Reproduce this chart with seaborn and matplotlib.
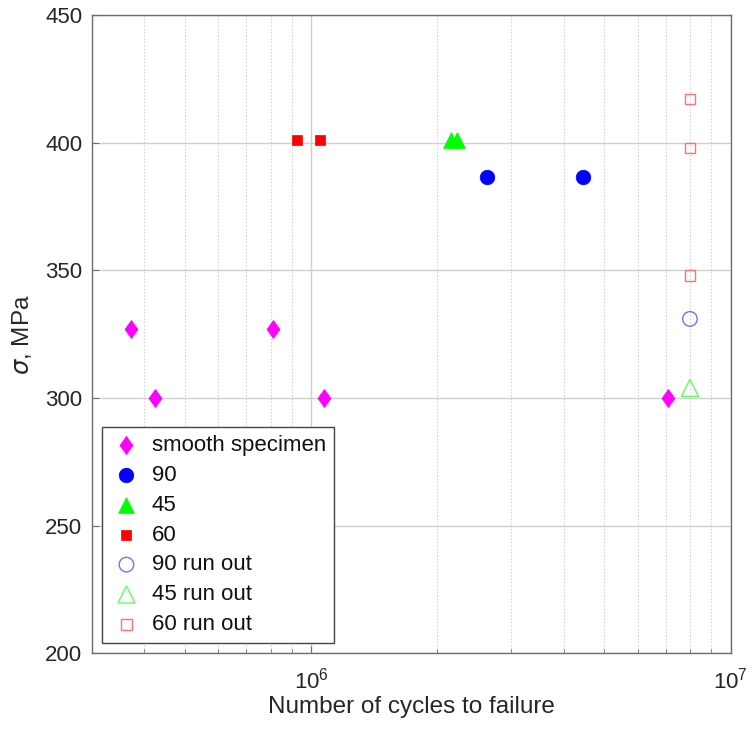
import numpy as np
import pandas as pd
import matplotlib
matplotlib.use("Agg")
import matplotlib.pyplot as plt
import matplotlib.ticker as mticker
from matplotlib.path import Path
import seaborn as sns

# ---- data ----
smooth_N = [3.72e5, 4.25e5, 8.1e5, 1.07e6, 7.08e6]
smooth_S = [327, 300, 327, 300, 300]
n90_N = [2.62e6, 4.45e6]
n90_S = [386.5, 386.5]
n45_N = [2.15e6, 2.23e6]
n45_S = [401, 401]
n60_N = [9.25e5, 1.05e6]
n60_S = [401, 401]
ro90_N = [8.0e6]
ro90_S = [331]
ro45_N = [8.0e6]
ro45_S = [304]
ro60_N = [8.0e6, 8.0e6, 8.0e6]
ro60_S = [417, 398, 348]

labels = ["smooth specimen", "90", "45", "60", "90 run out", "45 run out", "60 run out"]
yticks = [200, 250, 300, 350, 400, 450]

sns.set_style("white")
plt.rcParams["font.family"] = ["Liberation Sans", "DejaVu Sans"]
plt.rcParams["mathtext.fontset"] = "dejavusans"

# MATLAB-like diamond marker shape (slightly narrower than tall)
diamond = Path([(0, 1), (0.72, 0), (0, -1), (-0.72, 0), (0, 1)],
               [Path.MOVETO, Path.LINETO, Path.LINETO, Path.LINETO, Path.CLOSEPOLY])

fig = plt.figure(figsize=(7.52, 7.35), dpi=100)
ax = fig.add_axes([0.1223, 0.1109, 0.9715 - 0.1223, 0.9796 - 0.1109])

groups = [
    (smooth_N, smooth_S, labels[0], diamond, "#ff00ff", True, 170),
    (n90_N, n90_S, labels[1], "o", "#0000ff", True, 110),
    (n45_N, n45_S, labels[2], "^", "#00ff00", True, 130),
    (n60_N, n60_S, labels[3], "s", "#ff0000", True, 55),
    (ro90_N, ro90_S, labels[4], "o", "#7070ff", False, 110),
    (ro45_N, ro45_S, labels[5], "^", "#60ff60", False, 150),
    (ro60_N, ro60_S, labels[6], "s", "#ff7070", False, 55),
]

for xs, ys, lab, mk, col, filled, size in groups:
    df = pd.DataFrame({"N": xs, "S": ys})
    if filled:
        sns.scatterplot(data=df, x="N", y="S", marker=mk, color=col, s=size,
                        edgecolor=col, linewidth=0.5, ax=ax, label=lab, zorder=3)
    else:
        sns.scatterplot(data=df, x="N", y="S", marker=mk, color=col, s=size,
                        facecolor="none", edgecolor=col, linewidth=1.0, ax=ax,
                        label=lab, zorder=3)

ax.set_xscale("log")
ax.set_xlim(3e5, 1e7)
ax.set_ylim(200, 450)
ax.set_yticks(yticks)
ax.xaxis.set_major_locator(mticker.LogLocator(base=10, numticks=10))
ax.xaxis.set_minor_locator(mticker.LogLocator(base=10, subs=np.arange(2, 10), numticks=20))
ax.xaxis.set_minor_formatter(mticker.NullFormatter())

ax.grid(True, which="major", color="#cfcfcf", linewidth=1.0, linestyle="-", zorder=0)
ax.grid(True, which="minor", axis="x", color="#d4d4d4", linewidth=0.8,
        linestyle=(0, (1.5, 1.5)), zorder=0)
ax.set_axisbelow(True)

for sp in ax.spines.values():
    sp.set_color("#6e6e6e")
    sp.set_linewidth(1.0)

ax.tick_params(axis="both", which="major", direction="in", length=5, color="#6e6e6e",
               labelsize=16, labelcolor="#262626", pad=7)
ax.tick_params(axis="x", which="minor", direction="in", length=3, color="#6e6e6e")
ax.tick_params(axis="x", which="major", pad=10)
ax.xaxis.set_ticks_position("bottom")
ax.yaxis.set_ticks_position("left")

ax.set_xlabel("Number of cycles to failure", fontsize=17.5, color="#262626", labelpad=2)
ax.set_ylabel(r"$\sigma$, MPa", fontsize=17.5, color="#262626", labelpad=8)

leg = ax.legend(loc="lower left", bbox_to_anchor=(0.0157, 0.0164), borderaxespad=0,
                fontsize=16, frameon=True, fancybox=False, framealpha=1,
                edgecolor="#444444", labelspacing=0.4, handletextpad=0.4,
                handlelength=1.5, borderpad=0.35)
leg.get_frame().set_linewidth(1.0)
for t in leg.get_texts():
    t.set_color("#111111")

fig.savefig("out.png", dpi=100)
